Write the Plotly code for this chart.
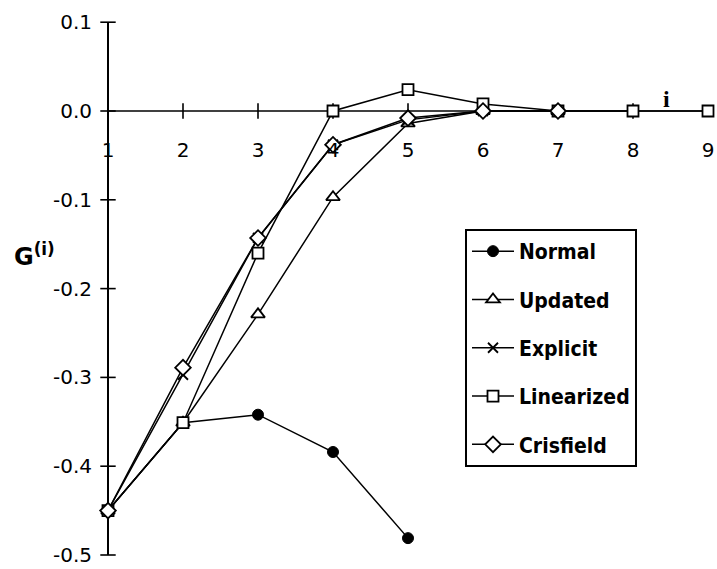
import plotly.graph_objects as go

# Iteration index i and the G^(i) values of each scheme
steps = [1, 2, 3, 4, 5, 6, 7, 8, 9]
normal = [-0.450, -0.351, -0.342, -0.384, -0.481]
updated = [-0.450, -0.351, -0.229, -0.097, -0.014, 0.000, 0.000]
explicit = [-0.450, -0.297, -0.143, -0.038, -0.010, 0.000, 0.000, 0.000]
linearized = [-0.450, -0.351, -0.160, 0.000, 0.024, 0.008, 0.000, 0.000, 0.000]
crisfield = [-0.450, -0.289, -0.143, -0.038, -0.008, 0.000, 0.000]

series_names = ["Normal", "Updated", "Explicit", "Linearized", "Crisfield"]
series_values = [normal, updated, explicit, linearized, crisfield]

y_ticks = [0.1, 0.0, -0.1, -0.2, -0.3, -0.4, -0.5]
y_tick_text = ["0.1", "0.0", "-0.1", "-0.2", "-0.3", "-0.4", "-0.5"]
x_ticks = steps
x_tick_text = [str(s) for s in steps]

W, H = 717, 569
X_ORIGIN_PX, X_UNIT_PX = 108, 75      # x = 1 sits at 108 px, 75 px per step
Y_ZERO_PX, Y_UNIT_PX = 111, 888       # y = 0 sits at 111 px, 888 px per unit

x_range = [1 - X_ORIGIN_PX / X_UNIT_PX, 1 - X_ORIGIN_PX / X_UNIT_PX + W / X_UNIT_PX]
y_range = [Y_ZERO_PX / Y_UNIT_PX - H / Y_UNIT_PX, Y_ZERO_PX / Y_UNIT_PX]

marker_styles = {
    "Normal": dict(symbol="circle", size=11, color="black", line=dict(color="black", width=1)),
    "Updated": dict(symbol="triangle-up", size=12, color="white", line=dict(color="black", width=1.8)),
    "Explicit": dict(symbol="x-thin", size=10, color="black", line=dict(color="black", width=1.8)),
    "Linearized": dict(symbol="square", size=11, color="white", line=dict(color="black", width=1.8)),
    "Crisfield": dict(symbol="diamond", size=12, color="white", line=dict(color="black", width=1.8)),
}

fig = go.Figure()

# Axis lines through the origin
fig.add_trace(go.Scatter(x=[x_ticks[0], x_ticks[-1]], y=[0, 0], mode="lines",
                         line=dict(color="black", width=1.6), showlegend=False,
                         hoverinfo="skip"))
fig.add_trace(go.Scatter(x=[x_ticks[0], x_ticks[0]], y=[y_ticks[-1], y_ticks[0]], mode="lines",
                         line=dict(color="black", width=2), showlegend=False,
                         hoverinfo="skip"))
# Cross-shaped tick marks
fig.add_trace(go.Scatter(x=x_ticks[1:-1], y=[0] * (len(x_ticks) - 2), mode="markers",
                         marker=dict(symbol="line-ns", size=11, line=dict(color="black", width=1.6)),
                         showlegend=False, hoverinfo="skip"))
fig.add_trace(go.Scatter(x=[x_ticks[0]] * len(y_ticks), y=y_ticks, mode="markers",
                         marker=dict(symbol="line-ew", size=11, line=dict(color="black", width=1.6)),
                         showlegend=False, hoverinfo="skip"))

for name, vals in zip(series_names, series_values):
    fig.add_trace(go.Scatter(
        x=steps[:len(vals)], y=vals, name=name, legendgroup=name,
        mode="lines+markers",
        line=dict(color="black", width=1.5),
        marker=marker_styles[name],
        cliponaxis=False,
    ))

fig.update_layout(
    width=W, height=H,
    margin=dict(l=0, r=0, t=0, b=0),
    paper_bgcolor="white", plot_bgcolor="white",
    showlegend=True,
    legend=dict(
        x=465 / W, y=1 - 229 / H, xanchor="left", yanchor="top",
        bgcolor="white", bordercolor="black", borderwidth=2,
        font=dict(family="DejaVu Sans Condensed, DejaVu Sans, sans-serif",
                  size=21, color="black", weight="bold"),
        tracegroupgap=18, itemwidth=42,
    ),
    xaxis=dict(
        range=x_range, anchor="free", position=1 - Y_ZERO_PX / H,
        tickmode="array", tickvals=x_ticks, ticktext=x_tick_text,
        showgrid=False, zeroline=False, showline=False, ticks="",
        ticklabelstandoff=25, automargin=False,
        tickfont=dict(family="DejaVu Sans", size=20, color="black"),
    ),
    yaxis=dict(
        range=y_range, anchor="free", position=X_ORIGIN_PX / W,
        tickmode="array", tickvals=y_ticks, ticktext=y_tick_text,
        showgrid=False, zeroline=False, showline=False, ticks="",
        ticklabelstandoff=16, automargin=False,
        tickfont=dict(family="DejaVu Sans", size=20, color="black"),
    ),
    annotations=[
        dict(text="i", xref="paper", yref="paper", x=672 / W, y=1 - 84 / H,
             showarrow=False, font=dict(family="Liberation Serif", size=24, color="black",
                                        weight="bold")),
        dict(text="G<sup>(i)</sup>", xref="paper", yref="paper", x=34 / W, y=1 - 255 / H,
             xanchor="center", yanchor="middle",
             showarrow=False, font=dict(family="DejaVu Sans", size=24, color="black",
                                        weight="bold")),
    ],
)

fig.write_html("out.html")
